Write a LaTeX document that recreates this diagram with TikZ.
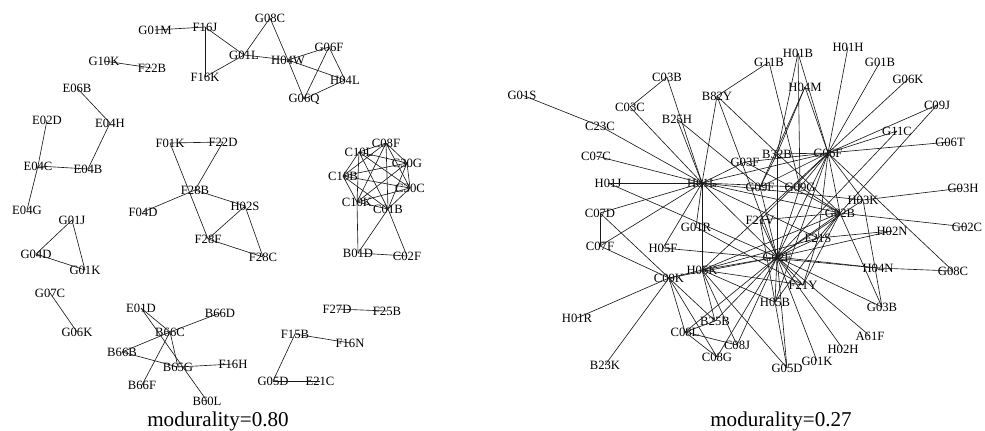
\documentclass[tikz,border=0pt]{standalone}
\usepackage{fontspec}
\setmainfont{Liberation Serif}

\begin{document}
\begin{tikzpicture}[x=0.025cm,y=-0.025cm,
        ipc/.style={inner sep=0pt,font=\fontsize{9}{10}\selectfont},
        link/.style={draw=black!90,line width=0.45pt},
        caption/.style={font=\fontsize{15}{18}\selectfont}]
    \useasboundingbox (0,0) rectangle (985,430);
    % left network
    \foreach \n/\x/\y in {G01M/155/30, F16J/205/27, F16K/205/77, G01L/244/55,
            G08C/270/18, H04W/288/60, G06F/329/47, H04L/345/80, G06Q/304/99,
            G10K/104/61, F22B/152/68, E06B/77/88, E04H/110/123, E02D/47/120,
            E04C/38/166, E04B/88/169, E04G/27/210, G01J/72/220, G04D/36/254,
            G01K/85/270, F01K/170/143, F22D/223/142, F28B/195/190, F04D/143/212,
            H02S/245/206, F28F/208/239, F28C/263/257, C08F/386/143, C10L/359/152,
            C30G/407/163, C10B/343/176, C30C/410/188, C10K/357/202, C01B/388/209,
            B01D/358/253, C02F/407/256, G07C/50/293, G06K/77/332, E01D/141/308,
            B66D/220/313, B66C/170/332, B66B/122/352, B65G/178/367, F16H/233/364,
            B66F/142/385, B60L/207/401, F27D/337/309, F25B/387/311, F15B/295/334,
            F16N/350/343, G05D/273/381, E21C/320/381}
        \node[ipc] (l\n) at (\x,\y) {\n};
    \foreach \a/\b in {G01M/F16J, F16J/F16K, F16J/G01L, F16K/G01L, G01L/G08C,
            G01L/H04W, G08C/H04W, H04W/G06Q, H04W/G06F, H04W/H04L, G06F/H04L,
            G06F/G06Q, H04L/G06Q, G10K/F22B, E06B/E04H, E04H/E04B, E04C/E04B,
            E02D/E04C, E04C/E04G, G01J/G04D, G01J/G01K, G04D/G01K, F01K/F22D,
            F01K/F28F, F22D/F28B, F28B/F04D, F28B/H02S, H02S/F28F, H02S/F28C,
            F28F/F28C, C10K/B01D, C01B/B01D, C01B/C02F, B01D/C02F, G07C/G06K,
            E01D/B66C, E01D/B60L, B66D/B66C, B66C/B66B, B66C/B65G, B66C/B66F,
            B66B/B65G, B65G/F16H, F27D/F25B, F15B/F16N, F15B/G05D, G05D/E21C}
        \draw[link] (l\a.center) -- (l\b.center);
    % the seven C classes are all linked
    \foreach \a/\b in {C08F/C10L, C08F/C30G, C08F/C10B, C08F/C30C, C08F/C10K,
            C08F/C01B, C10L/C30G, C10L/C10B, C10L/C30C, C10L/C10K, C10L/C01B,
            C30G/C10B, C30G/C30C, C30G/C10K, C30G/C01B, C10B/C30C, C10B/C10K,
            C10B/C01B, C30C/C10K, C30C/C01B, C10K/C01B}
        \draw[link] (l\a.center) -- (l\b.center);
    \node[caption] (lcap) at (218,421) {modurality=0.80};

    % right network
    \foreach \n/\x/\y in {G01S/522/95, C23C/600/126, C03B/667/77, C03C/630/107,
            B82Y/717/96, B25H/677/119, C07C/596/156, G11B/769/62, H01B/798/53,
            H01H/848/47, G01B/880/62, G06K/908/79, H04M/805/87, C09J/937/105,
            G11C/897/131, G06T/950/142, B32B/777/154, G06F/828/153, G03F/745/162,
            H01L/702/183, H01J/608/183, C07D/600/213, C07F/600/246, G01R/696/227,
            H05F/663/248, H05K/702/270, C09K/669/278, G09F/760/187, G09G/800/187,
            H03K/863/200, G02B/840/213, F21V/760/220, F21S/818/238, H02N/892/231,
            G03H/963/188, G02C/967/227, G02F/777/257, H04N/878/268, G08C/953/271,
            F21Y/803/285, H05B/775/302, G03B/882/307, A61F/870/336, H02H/843/349,
            G01K/817/361, G05D/787/368, C08J/737/345, H01R/577/318, B23K/605/365,
            B25B/715/321, C08L/685/332, C08G/717/357}
        \node[ipc] (r\n) at (\x,\y) {\n};
    \foreach \a/\b in {G01S/C23C, C23C/H01L, C03B/C03C, C03B/H01L, C03C/H01L,
            B25H/H01L, B25H/G09F, B82Y/G11B, B82Y/H01L, B82Y/G02B, B82Y/G02F,
            C07C/H01L, H01J/H01L, H01J/G02F, C07D/C07F, C07D/C09K, C07D/H01L,
            C07F/H01L, C07F/C09K, G01R/H01L, G01R/F21Y, H05F/H04N, H05F/H01L,
            H01L/H05K, H01L/G06F, H01L/G02B, H01L/G09G, H01L/H03K, H01L/F21S,
            H01L/G03F, H01L/G02F, H01R/C09K, B23K/C09K, C09K/C08L, C09K/C08G,
            C09K/B25B, C09K/G02F, C09K/H05K, G11B/G09G, H01B/B32B, H01B/G06F,
            H01B/G09G, H04M/B32B, H04M/G09F, H04M/G06F, H01H/G06F, G01B/G06F,
            G06K/G06F, C09J/G06F, C09J/G02B, G11C/G06F, G11C/G02F, G06T/G06F,
            B32B/G06F, B32B/G02F, B32B/G09F, G03F/G06F, G03F/G02B, G09F/G06F,
            G09F/G02F, G09G/G06F, G09G/G02F, G09G/G02B, G06F/G02B, G06F/H03K,
            G06F/F21S, G06F/H05K, G06F/G02F, G06F/H05B, G06F/F21V, G06F/G08C,
            H03K/G03H, H03K/G02F, G02B/G02C, G02B/F21S, G02B/G02F, G02B/H05K,
            G02B/H05B, G02B/G03B, G02B/F21V, G02B/F21Y, F21V/G02F, F21V/H05B,
            F21S/G02F, F21S/H02N, F21S/F21Y, F21S/H05K, G02F/H04N, G02F/H02N,
            G02F/G03B, G02F/A61F, G02F/H02H, G02F/G01K, G02F/G05D, G02F/C08J,
            G02F/H05B, G02F/F21Y, G02F/C08G, G02F/C08L, G02F/B25B, G02F/H05K,
            H04N/G08C, H05K/B25B, H05K/C08J, H05K/H05B, H05K/G05D, H05K/F21Y,
            H05B/G05D, C08L/C08J, C08L/C08G, C08L/B25B, G03B/H03K}
        \draw[link] (r\a.center) -- (r\b.center);
    \node[caption] (rcap) at (781,421) {modurality=0.27};
\end{tikzpicture}
\end{document}
